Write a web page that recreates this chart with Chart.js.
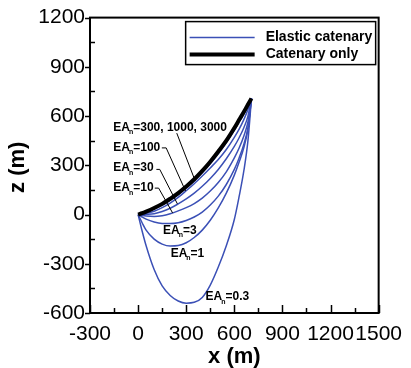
<!DOCTYPE html>
<html>
<head>
<meta charset="utf-8">
<script src="https://cdn.jsdelivr.net/npm/chart.js@4/dist/chart.umd.min.js"></script>
<style>
  html, body { margin: 0; padding: 0; background: #fff; }
  #wrap { width: 411px; height: 368px; }
</style>
</head>
<body>
<div id="wrap"><canvas id="c" width="411" height="368"></canvas></div>
<script>
// Horizontal stations (m) shared by every mooring line profile
const xStations = [0, 25, 50, 100, 150, 200, 250, 300, 350, 400, 450, 500, 550, 600, 630, 660, 685, 707];

// Vertical position z (m) at each station
const zCatenaryOnly = [0, 8, 18, 40, 65, 96, 130, 171, 215, 266, 322, 384, 450, 527, 577, 626, 670, 707];
const zEA300  = [0, 6, 14, 33, 56, 86, 120, 160, 204, 254, 309, 370, 437, 513, 563, 615, 662, 707];
const zEA100  = [0, 3, 7, 20, 42, 70, 104, 145, 188, 235, 284, 335, 396, 470, 520, 580, 640, 707];
const zEA30   = [0, 0, 1, 5, 18, 38, 65, 95, 130, 172, 220, 275, 340, 415, 468, 530, 600, 707];
const zEA10   = [0, -5, -9, -12, -7, 5, 22, 42, 67, 100, 143, 195, 260, 345, 405, 480, 565, 707];
const zEA3    = [0, -15, -28, -45, -54, -55, -50, -36, -15, 15, 58, 112, 183, 275, 345, 430, 530, 707];
const zEA1    = [0, -50, -95, -150, -180, -192, -189, -172, -140, -95, -35, 40, 130, 240, 320, 410, 520, 707];
const zEA03   = [0, -100, -190, -335, -435, -493, -527, -540, -535, -505, -430, -320, -190, -30, 110, 270, 450, 707];

// Axis ticks
const xTicks = [-300, 0, 300, 600, 900, 1200, 1500];
const zTicks = [-600, -300, 0, 300, 600, 900, 1200];

// Curve annotations: label text after "EA_n", anchor (x, z)
const labelTexts = ['=300, 1000, 3000', '=100', '=30', '=10', '=3', '=1', '=0.3'];
const labelX = [-155, -155, -155, -155, 155, 203, 421];
const labelZ = [530, 410, 283, 162, -97, -237, -503];

// Leader lines from labels to curves
const leaderX = [[241, 356], [148, 175, 296], [114, 135, 245], [104, 128, 215]];
const leaderZ = [[496, 205], [406, 406, 143], [275, 275, 65], [161, 161, 10]];

const FONT = '"Liberation Sans", Arial, Helvetica, sans-serif';
const BLUE = '#3b50b6';

const toPoints = (xs, zs) => xs.map((x, i) => ({ x: x, y: zs[i] }));

const curve = (zs, color, width, order) => ({
  data: toPoints(xStations, zs),
  borderColor: color,
  borderWidth: width,
  pointRadius: 0,
  showLine: true,
  fill: false,
  cubicInterpolationMode: 'monotone',
  order: order
});

const datasets = [
  curve(zCatenaryOnly, '#000', 4, 0),
  curve(zEA300, BLUE, 1.5, 1),
  curve(zEA100, BLUE, 1.5, 1),
  curve(zEA30, BLUE, 1.5, 1),
  curve(zEA10, BLUE, 1.5, 1),
  curve(zEA3, BLUE, 1.5, 1),
  curve(zEA1, BLUE, 1.5, 1),
  curve(zEA03, BLUE, 1.5, 1)
];
leaderX.forEach((xs, i) => {
  datasets.push({
    data: toPoints(xs, leaderZ[i]),
    borderColor: '#000',
    borderWidth: 1,
    pointRadius: 0,
    showLine: true,
    fill: false,
    tension: 0,
    order: 0
  });
});

function drawEA(ctx, x, y, rest) {
  ctx.fillStyle = '#000';
  ctx.textAlign = 'left';
  ctx.textBaseline = 'middle';
  ctx.font = 'bold 12px ' + FONT;
  ctx.fillText('EA', x, y);
  let w = ctx.measureText('EA').width;
  ctx.font = 'bold 7px ' + FONT;
  ctx.fillText('n', x + w - 1, y + 5);
  w += ctx.measureText('n').width - 1;
  ctx.font = 'bold 12px ' + FONT;
  ctx.fillText(rest, x + w, y);
}

const decor = {
  id: 'decor',
  afterDraw(chart) {
    const ctx = chart.ctx;
    const a = chart.chartArea;
    const xs = chart.scales.x, ys = chart.scales.y;
    ctx.save();

    // frame
    ctx.strokeStyle = '#000';
    ctx.lineWidth = 2;
    ctx.strokeRect(a.left, a.top, a.right - a.left, a.bottom - a.top);

    // x ticks: major and minor, pointing inward
    ctx.lineWidth = 1.5;
    for (let v = -300; v <= 1500; v += 150) {
      const px = Math.round(xs.getPixelForValue(v)) + 0.5;
      const len = (v % 300 === 0) ? 8 : 5;
      ctx.beginPath();
      ctx.moveTo(px, a.bottom);
      ctx.lineTo(px, a.bottom - len);
      ctx.stroke();
    }
    // z ticks: major outward, minor inward
    for (let v = -600; v <= 1200; v += 150) {
      const py = Math.round(ys.getPixelForValue(v)) + 0.5;
      ctx.beginPath();
      if (v % 300 === 0) {
        ctx.moveTo(a.left, py);
        ctx.lineTo(a.left - 5, py);
      } else {
        ctx.moveTo(a.left, py);
        ctx.lineTo(a.left + 5, py);
      }
      ctx.stroke();
    }

    // curve labels
    labelTexts.forEach((t, i) => {
      drawEA(ctx, xs.getPixelForValue(labelX[i]), ys.getPixelForValue(labelZ[i]), t);
    });

    // legend
    const lx = a.right - 193, ly = a.top + 4, lw = 190, lh = 43;
    ctx.fillStyle = '#fff';
    ctx.fillRect(lx, ly, lw, lh);
    ctx.strokeStyle = '#000';
    ctx.lineWidth = 1.5;
    ctx.strokeRect(lx, ly, lw, lh);
    ctx.strokeStyle = BLUE;
    ctx.lineWidth = 1.5;
    ctx.beginPath();
    ctx.moveTo(lx + 4, ly + 16);
    ctx.lineTo(lx + 69, ly + 16);
    ctx.stroke();
    ctx.strokeStyle = '#000';
    ctx.lineWidth = 4;
    ctx.beginPath();
    ctx.moveTo(lx + 4, ly + 33);
    ctx.lineTo(lx + 69, ly + 33);
    ctx.stroke();
    ctx.fillStyle = '#000';
    ctx.font = 'bold 14px ' + FONT;
    ctx.textAlign = 'left';
    ctx.textBaseline = 'middle';
    ctx.fillText('Elastic catenary', lx + 80, ly + 16);
    ctx.fillText('Catenary only', lx + 80, ly + 33);

    // axis titles
    ctx.font = 'bold 22px ' + FONT;
    ctx.textAlign = 'center';
    ctx.textBaseline = 'middle';
    ctx.fillText('x (m)', (a.left + a.right) / 2, 357);
    ctx.translate(18, (a.top + a.bottom) / 2 + 2);
    ctx.rotate(-Math.PI / 2);
    ctx.fillText('z (m)', 0, 0);

    ctx.restore();
  }
};

new Chart(document.getElementById('c'), {
  type: 'scatter',
  data: { datasets: datasets },
  options: {
    responsive: false,
    devicePixelRatio: 1,
    animation: false,
    layout: { padding: { left: 0, right: 24, top: 15, bottom: 0 } },
    plugins: { legend: { display: false }, tooltip: { enabled: false } },
    scales: {
      x: {
        type: 'linear',
        min: -300, max: 1500,
        afterBuildTicks(scale) { scale.ticks = xTicks.map(v => ({ value: v })); },
        afterFit(scale) { scale.height = 55; },
        grid: { display: false, drawTicks: false },
        border: { display: false },
        ticks: {
          autoSkip: false, maxRotation: 0, padding: 9, color: '#000',
          font: { family: FONT, size: 21 },
          callback: v => String(v)
        }
      },
      y: {
        type: 'linear',
        min: -600, max: 1200,
        afterBuildTicks(scale) { scale.ticks = zTicks.map(v => ({ value: v })); },
        afterFit(scale) { scale.width = 90; },
        grid: { display: false, drawTicks: false },
        border: { display: false },
        ticks: {
          autoSkip: false, padding: 5, color: '#000',
          font: { family: FONT, size: 21 },
          callback: v => String(v)
        }
      }
    }
  },
  plugins: [decor]
});
</script>
</body>
</html>
